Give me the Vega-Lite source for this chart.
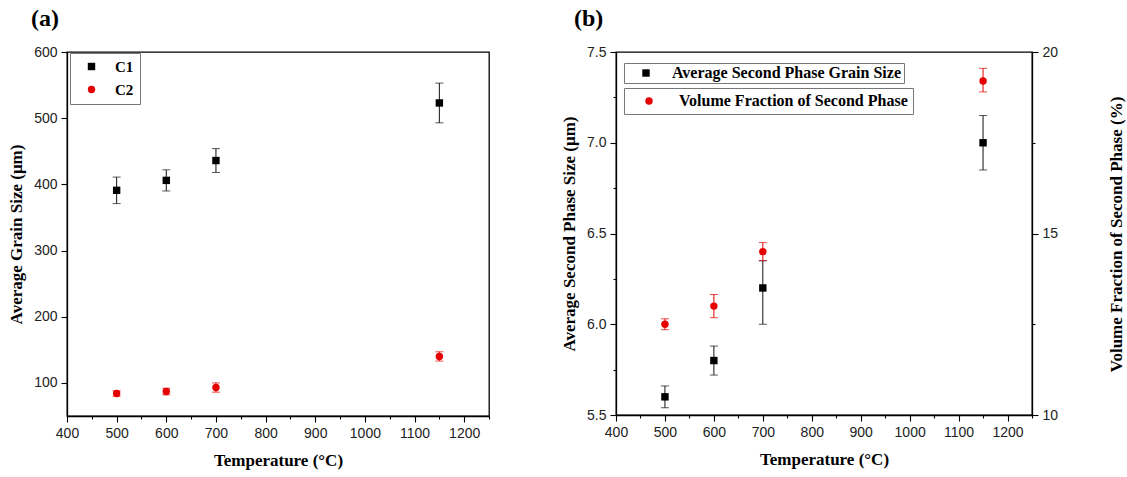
{
  "$schema": "https://vega.github.io/schema/vega-lite/v6.json",
  "background": "white",
  "padding": {"left": 6, "top": 6, "right": 2, "bottom": 4},
  "spacing": 68,
  "datasets": {
    "grain": [
      {"T": 500, "series": "C1", "v": 391, "lo": 371, "hi": 411},
      {"T": 600, "series": "C1", "v": 406, "lo": 390, "hi": 422},
      {"T": 700, "series": "C1", "v": 436, "lo": 418, "hi": 454},
      {"T": 1150, "series": "C1", "v": 523, "lo": 493, "hi": 553},
      {"T": 500, "series": "C2", "v": 84, "lo": 80, "hi": 88},
      {"T": 600, "series": "C2", "v": 87, "lo": 82, "hi": 92},
      {"T": 700, "series": "C2", "v": 93, "lo": 86, "hi": 100},
      {"T": 1150, "series": "C2", "v": 140, "lo": 133, "hi": 147}
    ],
    "size": [
      {"T": 500, "series": "Average Second Phase Grain Size", "v": 5.6, "lo": 5.54, "hi": 5.66},
      {"T": 600, "series": "Average Second Phase Grain Size", "v": 5.8, "lo": 5.72, "hi": 5.88},
      {"T": 700, "series": "Average Second Phase Grain Size", "v": 6.2, "lo": 6.0, "hi": 6.35},
      {"T": 1150, "series": "Average Second Phase Grain Size", "v": 7.0, "lo": 6.85, "hi": 7.15}
    ],
    "vf": [
      {"T": 500, "series": "Volume Fraction of Second Phase", "v": 12.5, "lo": 12.35, "hi": 12.65},
      {"T": 600, "series": "Volume Fraction of Second Phase", "v": 13.0, "lo": 12.68, "hi": 13.32},
      {"T": 700, "series": "Volume Fraction of Second Phase", "v": 14.5, "lo": 14.25, "hi": 14.75},
      {"T": 1150, "series": "Volume Fraction of Second Phase", "v": 19.2, "lo": 18.9, "hi": 19.55}
    ]
  },
  "hconcat": [
    {
      "width": 422,
      "height": 364,
      "title": {"text": "(a)", "anchor": "start", "frame": "group", "dx": -36, "offset": 14, "font": "Liberation Serif", "fontSize": 24, "fontWeight": "bold", "color": "#000"},
      "data": {"name": "grain"},
      "encoding": {
        "x": {
          "field": "T", "type": "quantitative",
          "scale": {"domain": [400, 1250], "nice": false, "zero": false},
          "axis": {
            "title": "Temperature (°C)",
            "values": [400, 450, 500, 550, 600, 650, 700, 750, 800, 850, 900, 950, 1000, 1050, 1100, 1150, 1200, 1250],
            "labelExpr": "datum.value % 100 === 0 ? datum.value : ''",
            "tickSize": {"condition": {"test": "datum.value % 100 === 0", "value": 6}, "value": 3},
            "grid": false
          }
        }
      },
      "layer": [
        {
          "transform": [{"filter": "datum.series === 'C1'"}],
          "mark": {"type": "errorbar", "ticks": {"size": 8}, "thickness": 1, "color": "#111"},
          "encoding": {
            "y": {"field": "lo", "type": "quantitative", "title": "Average Grain Size (μm)", "scale": {"domain": [50, 600], "nice": false, "zero": false}},
            "y2": {"field": "hi"}
          }
        },
        {
          "transform": [{"filter": "datum.series === 'C2'"}],
          "mark": {"type": "errorbar", "ticks": {"size": 8}, "thickness": 1, "color": "#e60000"},
          "encoding": {
            "y": {"field": "lo", "type": "quantitative", "title": "Average Grain Size (μm)"},
            "y2": {"field": "hi"}
          }
        },
        {
          "mark": {"type": "point", "filled": true, "size": 55, "opacity": 1},
          "encoding": {
            "y": {
              "field": "v", "type": "quantitative", "title": "Average Grain Size (μm)",
              "axis": {
                "values": [100, 150, 200, 250, 300, 350, 400, 450, 500, 550, 600],
                "labelExpr": "datum.value % 100 === 0 ? datum.value : ''",
                "tickSize": {"condition": {"test": "datum.value % 100 === 0", "value": 6}, "value": 3},
                "grid": false,
                "titlePadding": 8
              }
            },
            "color": {
              "field": "series", "type": "nominal",
              "scale": {"domain": ["C1", "C2"], "range": ["#000", "#e60000"]},
              "legend": {"title": null, "orient": "none", "legendX": 3, "legendY": 1, "strokeColor": "#777", "padding": 6, "rowPadding": 7, "symbolOffset": 8, "labelOffset": 16, "labelFont": "Liberation Serif", "labelFontWeight": "bold", "labelFontSize": 15, "labelColor": "#000", "labelLimit": 0, "symbolSize": 55, "symbolOpacity": 1}
            },
            "shape": {"field": "series", "type": "nominal", "scale": {"domain": ["C1", "C2"], "range": ["square", "circle"]}}
          }
        }
      ]
    },
    {
      "width": 416,
      "height": 363,
      "title": {"text": "(b)", "anchor": "start", "frame": "group", "dx": -42, "offset": 14, "font": "Liberation Serif", "fontSize": 24, "fontWeight": "bold", "color": "#000"},
      "encoding": {
        "x": {
          "field": "T", "type": "quantitative",
          "scale": {"domain": [400, 1250], "nice": false, "zero": false},
          "axis": {
            "title": "Temperature (°C)",
            "values": [400, 450, 500, 550, 600, 650, 700, 750, 800, 850, 900, 950, 1000, 1050, 1100, 1150, 1200, 1250],
            "labelExpr": "datum.value % 100 === 0 ? datum.value : ''",
            "tickSize": {"condition": {"test": "datum.value % 100 === 0", "value": 6}, "value": 3},
            "grid": false
          }
        }
      },
      "layer": [
        {
          "data": {"name": "size"},
          "layer": [
            {
              "mark": {"type": "errorbar", "ticks": {"size": 8}, "thickness": 1, "color": "#111"},
              "encoding": {
                "y": {"field": "lo", "type": "quantitative", "title": "Average Second Phase Size (μm)", "scale": {"domain": [5.5, 7.5], "nice": false, "zero": false}},
                "y2": {"field": "hi"}
              }
            },
            {
              "mark": {"type": "point", "filled": true, "size": 55, "opacity": 1, "shape": "square", "color": "#000"},
              "encoding": {
                "y": {
                  "field": "v", "type": "quantitative", "title": "Average Second Phase Size (μm)",
                  "axis": {
                    "orient": "left",
                    "values": [5.5, 5.75, 6.0, 6.25, 6.5, 6.75, 7.0, 7.25, 7.5],
                    "labelExpr": "(datum.value * 4) % 2 === 0 ? format(datum.value, '.1f') : ''",
                    "tickSize": {"condition": {"test": "(datum.value * 4) % 2 === 0", "value": 6}, "value": 3},
                    "grid": false,
                    "titlePadding": 8
                  }
                },
                "shape": {
                  "field": "series", "type": "nominal",
                  "scale": {"range": ["square"]},
                  "legend": {"title": null, "orient": "none", "legendX": 8, "legendY": 11, "strokeColor": "#777", "padding": 2, "symbolOffset": 12, "labelOffset": 18, "labelFont": "Liberation Serif", "labelFontWeight": "bold", "labelFontSize": 16, "labelColor": "#000", "labelLimit": 0, "symbolSize": 55, "symbolFillColor": "#000", "symbolStrokeColor": "#000", "symbolOpacity": 1}
                }
              }
            }
          ]
        },
        {
          "data": {"name": "vf"},
          "layer": [
            {
              "mark": {"type": "errorbar", "ticks": {"size": 8}, "thickness": 1, "color": "#e60000"},
              "encoding": {
                "y": {"field": "lo", "type": "quantitative", "title": "Volume Fraction of Second Phase (%)", "scale": {"domain": [10, 20], "nice": false, "zero": false}},
                "y2": {"field": "hi"}
              }
            },
            {
              "mark": {"type": "point", "filled": true, "size": 55, "opacity": 1, "shape": "circle", "color": "#e60000"},
              "encoding": {
                "y": {
                  "field": "v", "type": "quantitative", "title": "Volume Fraction of Second Phase (%)",
                  "axis": {
                    "orient": "right",
                    "values": [10, 12.5, 15, 17.5, 20],
                    "labelExpr": "datum.value % 5 === 0 ? datum.value : ''",
                    "tickSize": {"condition": {"test": "datum.value % 5 === 0", "value": 6}, "value": 3},
                    "grid": false,
                    "titleAngle": 270,
                    "titleBaseline": "middle",
                    "titleAlign": "center",
                    "titleX": 84,
                    "titleY": 182
                  }
                },
                "color": {
                  "field": "series", "type": "nominal",
                  "scale": {"range": ["#e60000"]},
                  "legend": {"title": null, "orient": "none", "legendX": 8, "legendY": 36, "strokeColor": "#777", "padding": 5, "symbolOffset": 12, "labelOffset": 22, "labelFont": "Liberation Serif", "labelFontWeight": "bold", "labelFontSize": 16, "labelColor": "#000", "labelLimit": 0, "symbolSize": 55, "symbolType": "circle", "symbolOpacity": 1}
                }
              }
            }
          ]
        }
      ],
      "resolve": {"scale": {"y": "independent", "color": "independent", "shape": "independent"}, "legend": {"color": "independent", "shape": "independent"}}
    }
  ],
  "config": {
    "view": {"stroke": "#000", "strokeWidth": 1.3},
    "axis": {
      "domainColor": "#000",
      "domainWidth": 1.3,
      "tickColor": "#000",
      "tickWidth": 1.1,
      "labelFont": "Liberation Sans",
      "labelFontSize": 14,
      "labelColor": "#222",
      "labelPadding": 4,
      "titleFont": "Liberation Serif",
      "titleFontSize": 17,
      "titleFontWeight": "bold",
      "titleColor": "#000"
    },
    "axisX": {"titlePadding": 12, "labelFlush": false},
    "axisY": {"labelFlush": false}
  }
}
